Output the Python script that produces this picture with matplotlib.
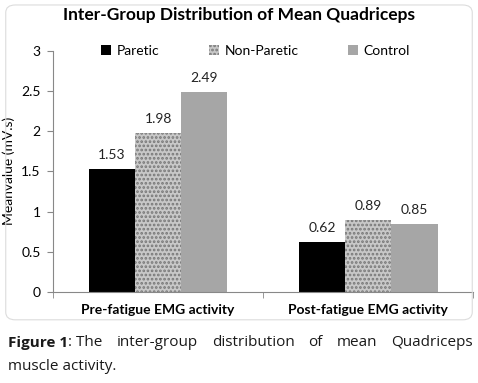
import numpy as np
import matplotlib
matplotlib.use('Agg')
import matplotlib.pyplot as plt
from matplotlib.patches import FancyBboxPatch

# data
groups = ['Pre-fatigue EMG activity', 'Post-fatigue EMG activity']
series = ['Paretic', 'Non-Paretic', 'Control']
paretic = [1.53, 0.62]
non_paretic = [1.98, 0.89]
control = [2.49, 0.85]
yticks = [0, 0.5, 1, 1.5, 2, 2.5, 3]

plt.rcParams['hatch.linewidth'] = 1.3

fig = plt.figure(figsize=(4.78, 3.83), dpi=100)
ax = fig.add_axes([0.111, 0.2376, 0.879, 0.6305])

# chart frame with rounded corners
frame = FancyBboxPatch((0.012, 0.165), 0.976, 0.822, boxstyle='round,pad=0,rounding_size=0.02',
                       transform=fig.transFigure, fill=False, edgecolor='#dcdcdc', lw=0.8)
fig.patches.append(frame)

x = np.arange(len(groups))
w = 0.22
b1 = ax.bar(x - w, paretic, w, color='black', label='Paretic')
b2 = ax.bar(x, non_paretic, w, color='#c8c8c8', hatch='....', edgecolor='#777777', lw=0, label='Non-Paretic')
b3 = ax.bar(x + w, control, w, color='#a6a6a6', label='Control')

for bars, vals in [(b1, paretic), (b2, non_paretic), (b3, control)]:
    for r, v in zip(bars, vals):
        ax.text(r.get_x() + r.get_width() / 2, v + 0.1, '%.2f' % v, ha='center', va='bottom',
                fontsize=10, family='Lato', color='#222222')

ax.set_xlim(-0.5, 1.5)
ax.set_ylim(0, 3)
ax.set_yticks(yticks)
ax.set_yticklabels(['0', '0.5', '1', '1.5', '2', '2.5', '3'], family='Lato', fontsize=10)
ax.set_xticks(x)
ax.set_xticklabels(groups, family='Lato', fontweight='bold', fontsize=10)
ax.set_xticks([-0.5, 0.5, 1.5], minor=True)
ax.tick_params(axis='x', which='major', length=0, pad=9)
ax.tick_params(axis='x', which='minor', length=4, color='#888888')
ax.tick_params(axis='y', length=4, color='#888888', pad=5)
for s in ['top', 'right']:
    ax.spines[s].set_visible(False)
ax.spines['left'].set_color('#888888')
ax.spines['bottom'].set_color('#888888')
ax.set_ylabel('Meanvalue (mV.s)', family='Lato', fontsize=10)
ax.yaxis.set_label_coords(-0.09, 0.5)

ax.legend(loc='upper left', bbox_to_anchor=(0.085, 1.075), ncol=3, frameon=False,
          prop={'family': 'Lato', 'size': 10}, handlelength=0.7, handleheight=0.7,
          columnspacing=3.6, handletextpad=0.4)

fig.text(0.5, 0.96, 'Inter-Group Distribution of Mean Quadriceps', ha='center', va='center',
         family='Lato', fontweight='bold', fontsize=12.5)

# caption, first line justified between x0 and x1
words = [('Figure 1', 'bold'), (': The', 'normal'), ('inter-group', 'normal'),
         ('distribution', 'normal'), ('of', 'normal'), ('mean', 'normal'), ('Quadriceps', 'normal')]
x0, x1 = 8, 473
r = fig.canvas.get_renderer()
items = []
for wd, fw in words:
    t = fig.text(0, 1 - 343 / 383, wd, ha='left', va='center', family='Open Sans',
                 fontweight=fw, fontsize=11, color='#1a1a1a')
    items.append((t, t.get_window_extent(r).width))
widths = [wi for _, wi in items]
# ': The' is glued to 'Figure 1'
gap_count = len(items) - 2
gap = (x1 - x0 - sum(widths)) / gap_count
px = x0
for i, (t, wi) in enumerate(items):
    t.set_x(px / 478)
    px += wi
    if i != 0:
        px += gap
fig.text(x0 / 478, 1 - 366 / 383, 'muscle activity.', ha='left', va='center', family='Open Sans',
         fontsize=11, color='#1a1a1a')

fig.savefig('out.png', dpi=100)
